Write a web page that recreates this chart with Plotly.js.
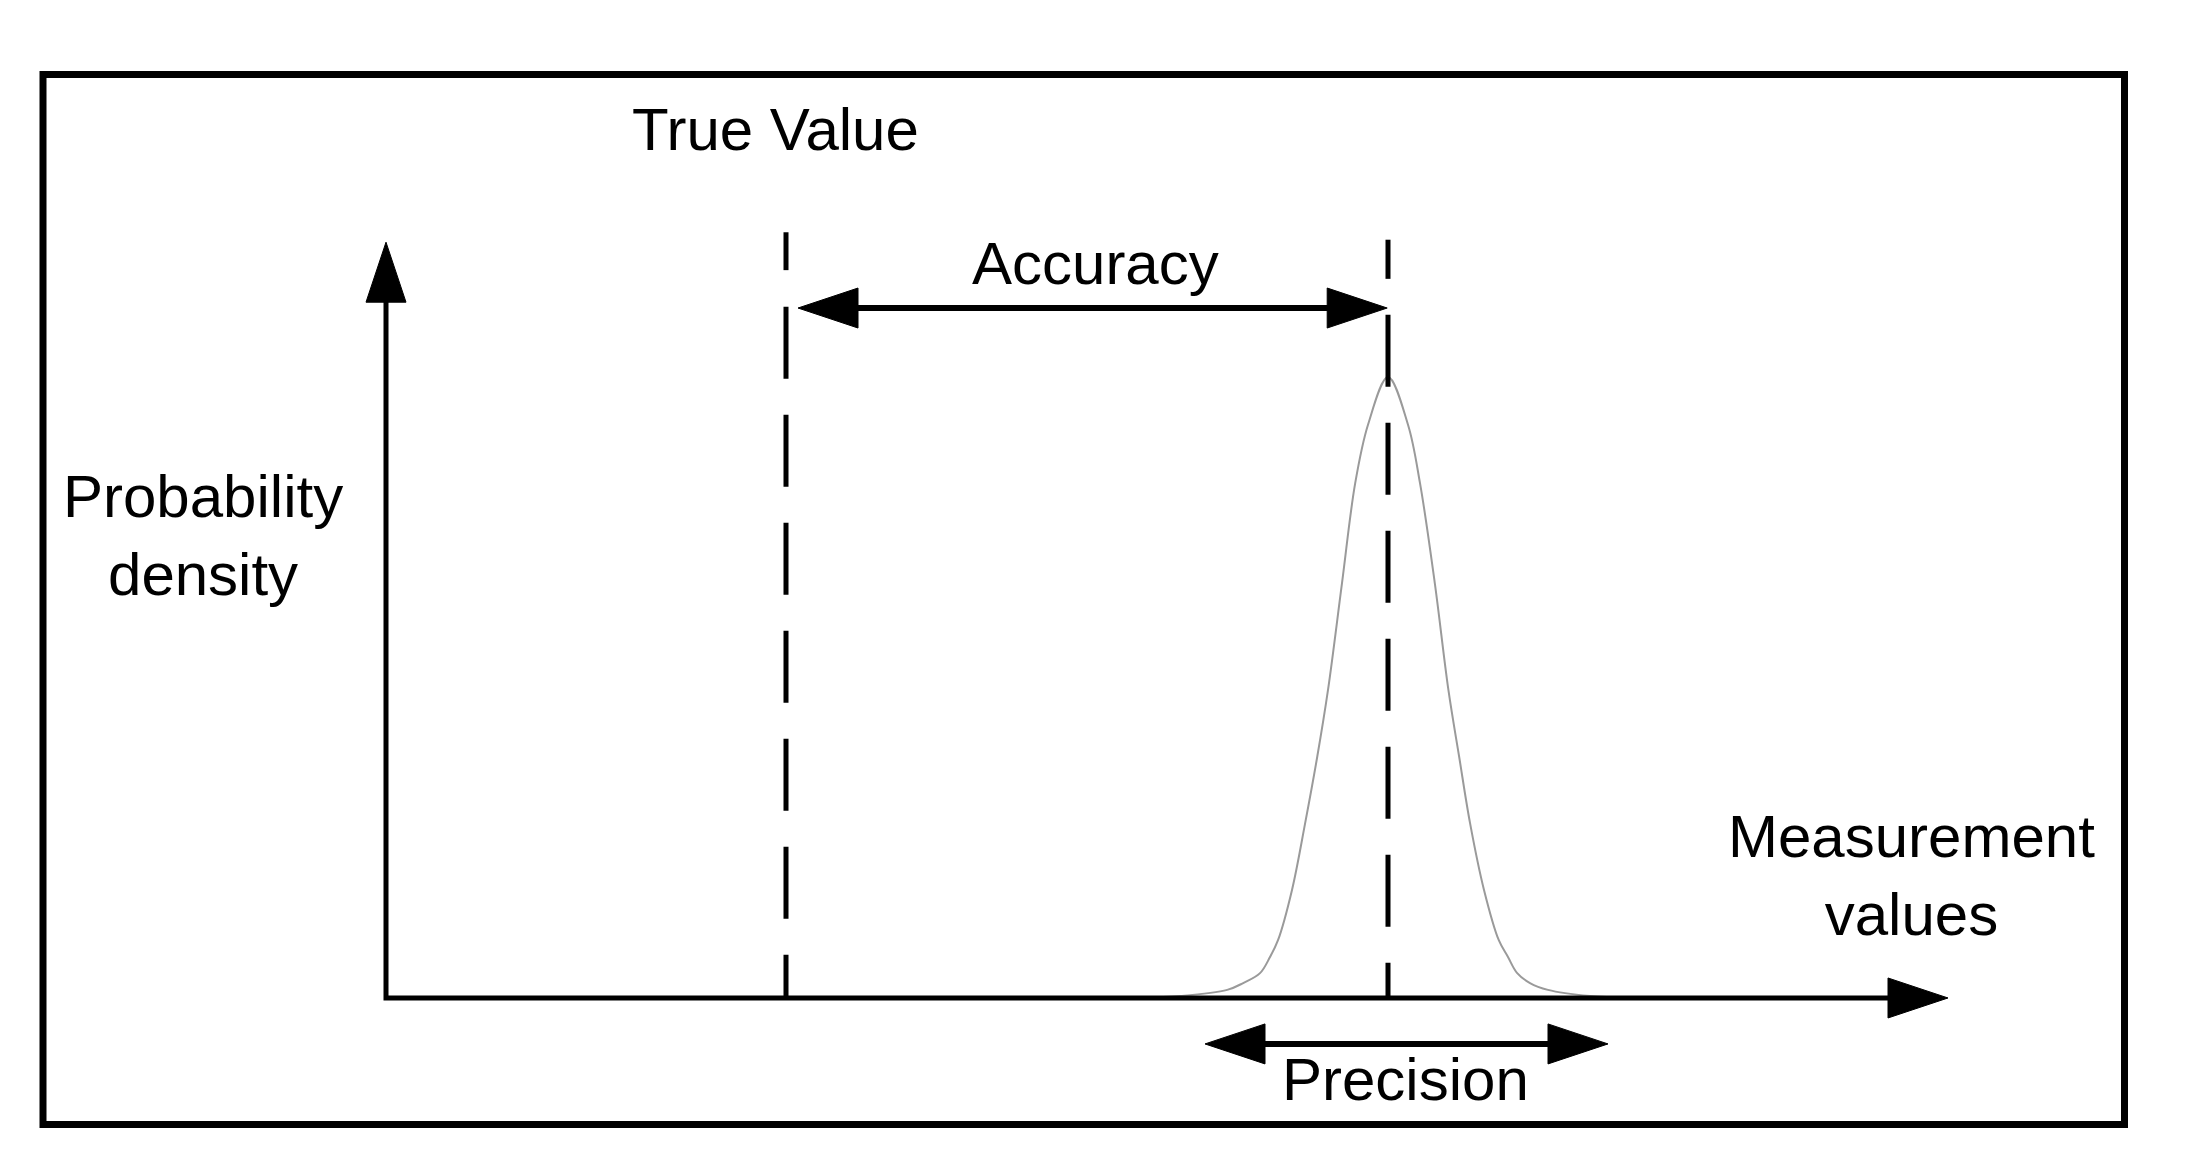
<!DOCTYPE html>
<html>
<head>
<meta charset="utf-8">
<title>Accuracy and precision</title>
<script src="https://cdn.plot.ly/plotly-3.0.1.min.js"></script>
<style>
  html, body { margin: 0; padding: 0; background: #fff; }
  #chart { width: 2195px; height: 1170px; }
</style>
</head>
<body>
<div id="chart"></div>
<script>
// measurement axis: 0 where the drawn axes meet
const trueValue = 10;
const measuredMean = 25.05;

// probability density curve (peak scaled to 1)
const curveX = [18.85, 19.85, 21.03, 21.43, 21.85, 22.10, 22.30, 22.65, 22.98, 23.28, 23.55, 23.90, 24.23, 24.55,
                25.05, 25.55, 25.85, 26.22, 26.56, 26.83, 27.10, 27.45, 27.82, 28.05, 28.28, 28.60, 29.05, 30.10, 31.10];
const curveY = [0, 0.003, 0.013, 0.024, 0.040, 0.066, 0.093, 0.174, 0.282, 0.388, 0.496, 0.668, 0.829, 0.923,
                1.0, 0.923, 0.829, 0.668, 0.496, 0.388, 0.282, 0.174, 0.093, 0.066, 0.040, 0.024, 0.013, 0.003, 0];

// axis and arrow ends
const xAxisEnd = 39.05;
const yAxisEnd = 1.217;
const accuracyFrom = 10.3;
const accuracyTo = 25.03;
const accuracyY = 1.111;
const precisionFrom = 20.475;
const precisionTo = 30.55;
const precisionY = -0.074;

// dashed guides: a short dash above the accuracy arrow, long dashes below it
const guideX = [trueValue, measuredMean];
const guideTops = [1.233, 1.221];
const guideBreaks = [1.172, 1.158];
const guideResumes = [1.113, 1.100];

// text labels
const labelText = ['True Value', 'Accuracy', 'Precision', 'Probability<br>density', 'Measurement<br>values'];
const labelX = [9.725, 17.725, 25.49, -4.575, 38.14];
const labelY = [1.398, 1.182, -0.132, 0.744, 0.198];

const W = 2195, H = 1170;
const xRange = [-9.65, 45.225];
const yRange = [-0.277, 1.607];
const pxPerX = W / (xRange[1] - xRange[0]);
const pxPerY = H / (yRange[1] - yRange[0]);

const HEAD_LEN = 60;
const HEAD_HALF = 20;
const INK = '#000';
const FONT = 'Liberation Sans, Arial, sans-serif';

// how far a line stops short of its arrow tip, in data units
const stopX = (HEAD_LEN - 6) / pxPerX;
const stopY = (HEAD_LEN - 6) / pxPerY;

function line(xs, ys, width, dash) {
    return {
        x: xs, y: ys, type: 'scatter', mode: 'lines',
        line: { color: INK, width: width, dash: dash || 'solid' },
        hoverinfo: 'skip', showlegend: false
    };
}

function head(x, y, dir) {
    const paths = {
        right: `M0,0L${-HEAD_LEN},${HEAD_HALF}L${-HEAD_LEN},${-HEAD_HALF}Z`,
        left: `M0,0L${HEAD_LEN},${HEAD_HALF}L${HEAD_LEN},${-HEAD_HALF}Z`,
        up: `M0,0L${-HEAD_HALF},${-HEAD_LEN}L${HEAD_HALF},${-HEAD_LEN}Z`
    };
    return {
        type: 'path', xref: 'x', yref: 'y',
        xsizemode: 'pixel', ysizemode: 'pixel',
        xanchor: x, yanchor: y,
        path: paths[dir],
        fillcolor: INK,
        line: { color: INK, width: 1 }
    };
}

const traces = [];

traces.push({
    x: curveX, y: curveY, type: 'scatter', mode: 'lines',
    line: { color: '#9a9a9a', width: 2, shape: 'spline', smoothing: 1 },
    hoverinfo: 'skip', showlegend: false
});

guideX.forEach((gx, i) => {
    traces.push(line([gx, gx], [guideTops[i], guideBreaks[i]], 5));
    traces.push(line([gx, gx], [guideResumes[i], 0], 5, '72px,36px'));
});

// axes
traces.push(line([0, 0, xAxisEnd - stopX], [yAxisEnd - stopY, 0, 0], 5));

// accuracy and precision arrows
traces.push(line([accuracyFrom + stopX, accuracyTo - stopX], [accuracyY, accuracyY], 6));
traces.push(line([precisionFrom + stopX, precisionTo - stopX], [precisionY, precisionY], 6));

const shapes = [
    head(0, yAxisEnd, 'up'),
    head(xAxisEnd, 0, 'right'),
    head(accuracyFrom, accuracyY, 'left'),
    head(accuracyTo, accuracyY, 'right'),
    head(precisionFrom, precisionY, 'left'),
    head(precisionTo, precisionY, 'right'),
    {
        type: 'rect', xref: 'paper', yref: 'paper',
        x0: 43 / W, x1: 2124.5 / W, y0: 1 - 1124.5 / H, y1: 1 - 74.5 / H,
        line: { color: INK, width: 7 }, fillcolor: 'rgba(0,0,0,0)'
    }
];

const annotations = labelText.map((t, i) => ({
    text: t, x: labelX[i], y: labelY[i], xref: 'x', yref: 'y',
    xanchor: 'center', yanchor: 'middle', align: 'center',
    showarrow: false,
    font: { family: FONT, size: 60, color: INK }
}));

const layout = {
    width: W, height: H, autosize: false,
    margin: { l: 0, r: 0, t: 0, b: 0, pad: 0 },
    paper_bgcolor: '#fff', plot_bgcolor: '#fff',
    xaxis: { range: xRange, visible: false, fixedrange: true },
    yaxis: { range: yRange, visible: false, fixedrange: true },
    shapes: shapes,
    annotations: annotations,
    showlegend: false
};

Plotly.newPlot('chart', traces, layout, { staticPlot: true, displayModeBar: false });
</script>
</body>
</html>
